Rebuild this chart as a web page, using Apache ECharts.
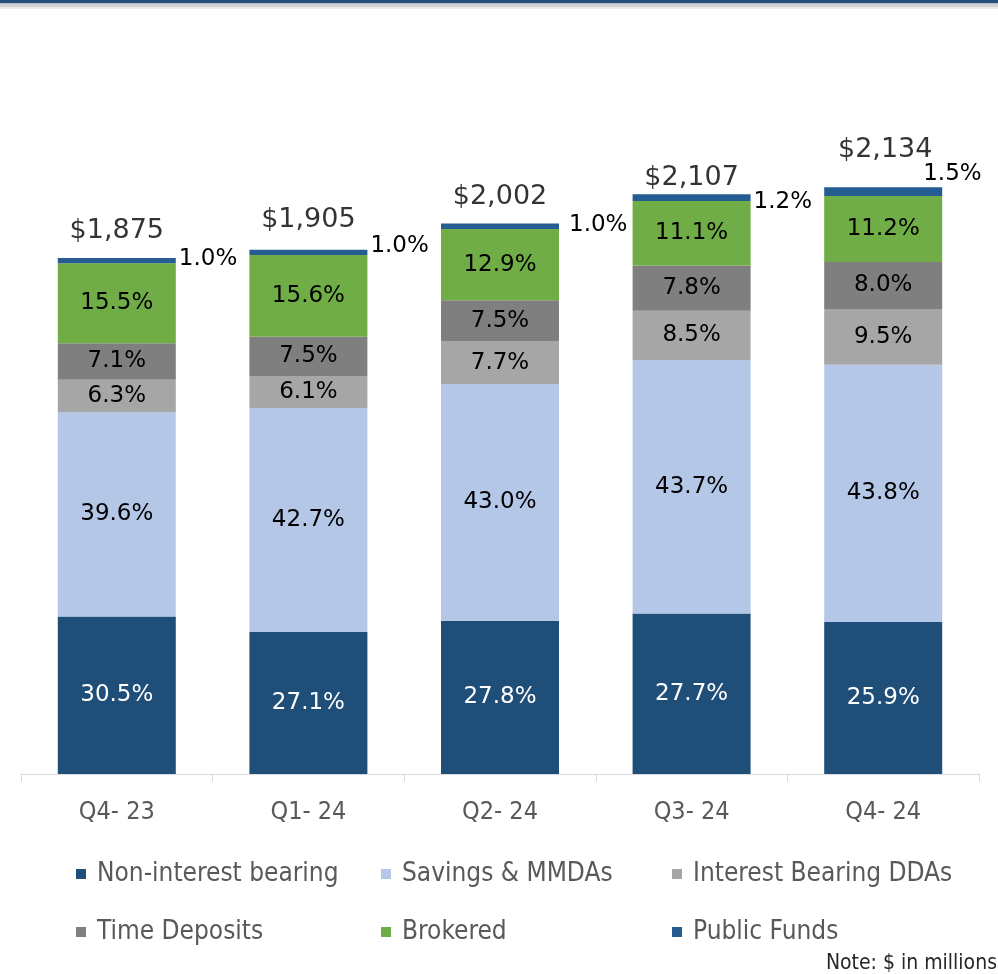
<!DOCTYPE html>
<html>
<head>
<meta charset="utf-8">
<script src="https://cdn.jsdelivr.net/npm/echarts@6/dist/echarts.min.js"></script>
<style>
  html, body { margin: 0; padding: 0; background: #fff; }
  #chart { width: 998px; height: 974px; }
</style>
</head>
<body>
<div id="chart"></div>
<script>
// deposit mix, $ in millions; shares in percent of total
const categories = ["Q4- 23", "Q1- 24", "Q2- 24", "Q3- 24", "Q4- 24"];
const totals = [1875, 1905, 2002, 2107, 2134];
const nonInterest = [30.5, 27.1, 27.8, 27.7, 25.9];
const savings = [39.6, 42.7, 43.0, 43.7, 43.8];
const ibDdas = [6.3, 6.1, 7.7, 8.5, 9.5];
const timeDeposits = [7.1, 7.5, 7.5, 7.8, 8.0];
const brokered = [15.5, 15.6, 12.9, 11.1, 11.2];
const publicFunds = [1.0, 1.0, 1.0, 1.2, 1.5];

const chart = echarts.init(document.getElementById("chart"));

const fmtMoney = (v) => "$" + String(v).replace(/\B(?=(\d{3})+(?!\d))/g, ",");

const segment = (name, pcts, color, labelColor) => ({
    name: name,
    type: "bar",
    stack: "total",
    barWidth: 118,
    itemStyle: { color: color },
    label: {
        show: true,
        position: "inside",
        color: labelColor,
        fontFamily: "DejaVu Sans",
        fontSize: 23,
        formatter: (p) => pcts[p.dataIndex].toFixed(1) + "%",
    },
    data: pcts.map((p, i) => (totals[i] * p) / 100),
});

// small nudges so the outside labels sit where the original has them
const pfOffsets = [[0, -2], [0, -6], [7, -1], [0, 4], [-22, -18]];
const totalOffsets = [[0, 2], [0, 0], [0, 3], [0, 13], [2, -7]];

const publicSeries = segment("Public Funds", publicFunds, "#255d92", "#000");
publicSeries.label.position = "right";
publicSeries.label.distance = 3;
publicSeries.data = publicSeries.data.map((v, i) => ({
    value: v,
    label: { offset: pfOffsets[i] },
}));

const legendBase = {
    orient: "vertical",
    top: 861,
    padding: 0,
    itemWidth: 10,
    itemHeight: 10,
    itemGap: 32,
    icon: "rect",
    textStyle: {
        fontFamily: "DejaVu Sans Condensed",
        fontSize: 26,
        lineHeight: 24,
        color: "#595959",
        padding: [0, 0, 0, 6],
    },
};

const option = {
    animation: false,
    backgroundColor: "#fff",
    grid: { left: 21, right: 19, top: 86, bottom: 200 },
    legend: [
        Object.assign({}, legendBase, { left: 76, data: ["Non-interest bearing", "Time Deposits"] }),
        Object.assign({}, legendBase, { left: 381, data: ["Savings & MMDAs", "Brokered"] }),
        Object.assign({}, legendBase, { left: 672, data: ["Interest Bearing DDAs", "Public Funds"] }),
    ],
    xAxis: {
        type: "category",
        data: categories,
        axisLine: { lineStyle: { color: "#d9d9d9", width: 1 } },
        axisTick: { show: true, length: 8, lineStyle: { color: "#d9d9d9" } },
        axisLabel: {
            margin: 26,
            fontFamily: "DejaVu Sans Condensed",
            fontSize: 25,
            color: "#595959",
        },
    },
    yAxis: { type: "value", min: 0, max: 2500, show: false },
    graphic: [
        { type: "rect", left: 0, top: 0, shape: { width: 998, height: 3.5 }, style: { fill: "#24507d" } },
        { type: "rect", left: 0, top: 3.5, shape: { width: 998, height: 3.5 }, style: { fill: "#d2d2d2" } },
        { type: "rect", left: 0, top: 7, shape: { width: 998, height: 2 }, style: { fill: "#ececec" } },
        {
            type: "text",
            right: 1,
            top: 953,
            style: {
                text: "Note: $ in millions",
                fontFamily: "DejaVu Sans Condensed",
                fontSize: 21,
                fill: "#262626",
            },
        },
    ],
    series: [
        segment("Non-interest bearing", nonInterest, "#1f4e79", "#fff"),
        segment("Savings & MMDAs", savings, "#b4c7e7", "#000"),
        segment("Interest Bearing DDAs", ibDdas, "#a6a6a6", "#000"),
        segment("Time Deposits", timeDeposits, "#7f7f7f", "#000"),
        segment("Brokered", brokered, "#70ad47", "#000"),
        publicSeries,
        {
            name: "Total",
            type: "scatter",
            symbolSize: 0,
            silent: true,
            label: {
                show: true,
                position: "top",
                distance: 16,
                color: "#000",
                fontFamily: "DejaVu Sans",
                fontSize: 27,
                formatter: (p) => fmtMoney(totals[p.dataIndex]),
            },
            data: totals.map((v, i) => ({ value: v, label: { offset: totalOffsets[i] } })),
        },
    ],
};

chart.setOption(option);
window.addEventListener("resize", () => chart.resize());
</script>
</body>
</html>
